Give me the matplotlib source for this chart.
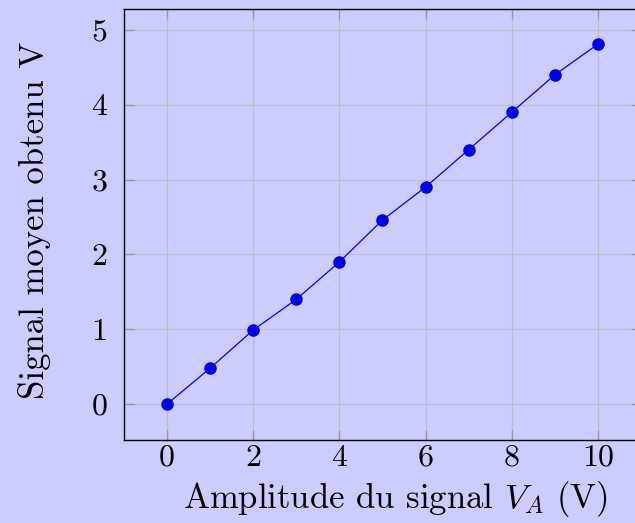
import matplotlib
matplotlib.use("Agg")
import matplotlib.pyplot as plt

x_vals = [0, 1, 2, 3, 4, 5, 6, 7, 8, 9, 10]
y_vals = [0.0, 0.48, 0.99, 1.40, 1.90, 2.46, 2.90, 3.40, 3.90, 4.40, 4.81]
x_ticks = [0, 2, 4, 6, 8, 10]
y_ticks = [0, 1, 2, 3, 4, 5]

plt.rcParams['font.family'] = 'serif'
plt.rcParams['font.serif'] = ['cmr10']
plt.rcParams['mathtext.fontset'] = 'cm'
plt.rcParams['axes.formatter.use_mathtext'] = True

bg = '#ccccff'
fig = plt.figure(figsize=(6.35, 5.23), dpi=100, facecolor=bg)
ax = fig.add_axes([124/635, 83/523, 517/635, 431/523], facecolor=bg)

ax.plot(x_vals, y_vals, color='blue', lw=0.9, marker='o', markersize=8,
        markerfacecolor='#0000e6', markeredgecolor='#0000e6', zorder=3)

ax.set_xlim(-1, 11)
ax.set_ylim(-0.48, 5.28)
ax.set_xticks(x_ticks)
ax.set_yticks(y_ticks)
ax.set_xticklabels([str(v) for v in x_ticks])
ax.set_yticklabels([str(v) for v in y_ticks])
ax.grid(True, color='#bdbdc8', lw=0.8, zorder=0)
ax.set_axisbelow(True)
ax.tick_params(direction='in', length=7, width=1, color='#999999',
               top=True, right=True, labelsize=23)
ax.tick_params(axis='y', pad=12)
ax.tick_params(axis='x', pad=3)
for s in ax.spines.values():
    s.set_color('black')
    s.set_linewidth(1.0)

ax.set_xlabel('Amplitude du signal $V_A$ (V)', fontsize=25)
ax.set_ylabel('Signal moyen obtenu V', fontsize=25)
ax.xaxis.label.set_va('center')
ax.yaxis.label.set_va('center')
ax.xaxis.set_label_coords((395 - 124) / 517, (440 - 499) / 431)
ax.yaxis.set_label_coords((35 - 124) / 517, (440 - 220) / 431)

fig.savefig('out.png', dpi=100, facecolor=bg)
